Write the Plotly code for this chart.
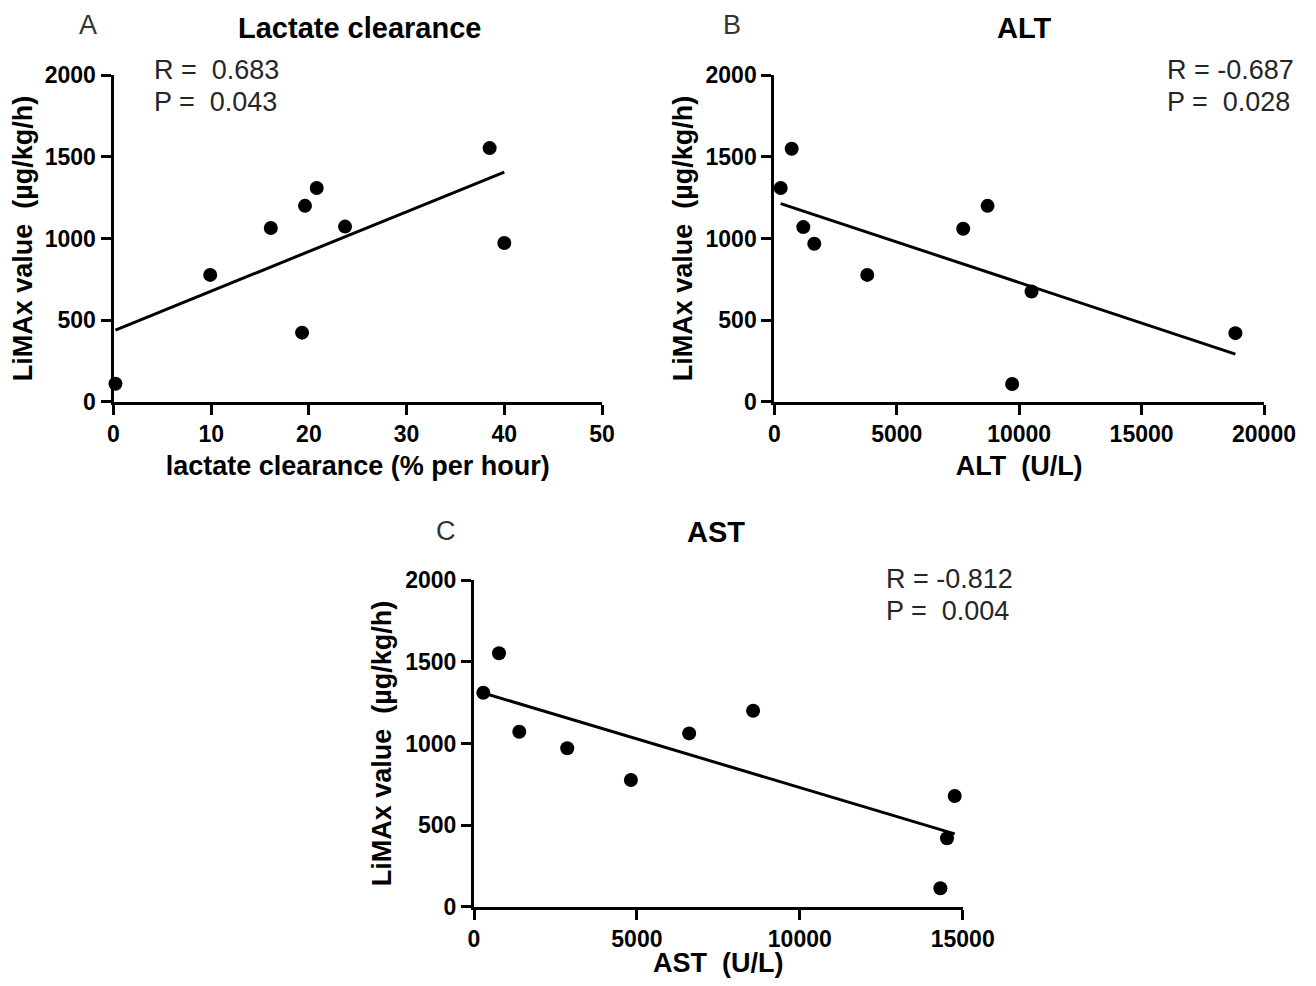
import numpy as np
import plotly.graph_objects as go

# ---------------- data ----------------
lactate_clearance = [0.2, 9.9, 16.1, 19.3, 19.6, 20.8, 23.7, 38.5, 40.0]
limax_lactate = [110, 777, 1064, 423, 1200, 1309, 1073, 1554, 972]

alt_values = [261, 710, 1184, 1633, 3796, 7714, 8710, 10506, 9714, 18832]
limax_alt = [1309, 1550, 1070, 968, 777, 1060, 1200, 675, 108, 420]

ast_values = [285, 767, 1390, 2862, 4816, 6604, 8567, 14755, 14519, 14315]
limax_ast = [1311, 1553, 1072, 971, 776, 1062, 1201, 678, 419, 113]

stats_lactate = ["R =\u00a0 0.683", "P =\u00a0 0.043"]
stats_alt = ["R = -0.687", "P =\u00a0 0.028"]
stats_ast = ["R = -0.812", "P =\u00a0 0.004"]

y_ticks = [0, 500, 1000, 1500, 2000]
x_ticks_lactate = [0, 10, 20, 30, 40, 50]
x_ticks_alt = [0, 5000, 10000, 15000, 20000]
x_ticks_ast = [0, 5000, 10000, 15000]

# page body has an 8px margin; keep the figure inside the 1316x986 window
OFF = 8
W, H = 1316 - 2 * OFF, 986 - 2 * OFF
FONT = "Liberation Sans, Arial, sans-serif"


def px(x):
    return (x - OFF) / W


def py(y):
    return 1 - (y - OFF) / H


def fit_line(x, y):
    slope, intercept = np.polyfit(x, y, 1)
    xs = np.array([min(x), max(x)])
    return xs, slope * xs + intercept


fig = go.Figure()

panels = [
    (lactate_clearance, limax_lactate, "x", "y"),
    (alt_values, limax_alt, "x2", "y2"),
    (ast_values, limax_ast, "x3", "y3"),
]
for xv, yv, xa, ya in panels:
    fx, fy = fit_line(xv, yv)
    fig.add_trace(go.Scatter(x=fx, y=fy, mode="lines", xaxis=xa, yaxis=ya,
                             line=dict(color="black", width=3),
                             showlegend=False, hoverinfo="skip", cliponaxis=False))
    fig.add_trace(go.Scatter(x=xv, y=yv, mode="markers", xaxis=xa, yaxis=ya,
                             marker=dict(color="black", size=14, line=dict(width=0)),
                             showlegend=False, cliponaxis=False))

axis_common = dict(
    showline=True, linecolor="black", linewidth=3,
    ticks="outside", ticklen=10, tickwidth=3, tickcolor="black",
    showgrid=False, zeroline=False, automargin=False,
    tickfont=dict(family=FONT, size=23, color="black", weight="bold"),
)
title_font = dict(family=FONT, size=27, color="black", weight="bold")

dom_x_a = [px(113.5), px(602)]
dom_x_b = [px(774.3), px(1264)]
dom_x_c = [px(474), px(962.7)]
dom_y_ab = [py(401.7), py(75.3)]
dom_y_c = [py(906.7), py(580.3)]

ytitle = "LiMAx value\u00a0 (µg/kg/h)"


def tick_text(vals):
    return [str(v) for v in vals]


fig.update_layout(
    width=W, height=H,
    margin=dict(l=0, r=0, t=0, b=0, autoexpand=False),
    paper_bgcolor="white", plot_bgcolor="white",
    xaxis=dict(axis_common, domain=dom_x_a, anchor="y", range=[0, 50],
               tickvals=x_ticks_lactate, ticktext=tick_text(x_ticks_lactate),
               title=dict(text="lactate clearance (% per hour)", font=title_font, standoff=10)),
    yaxis=dict(axis_common, domain=dom_y_ab, anchor="x", range=[0, 2000],
               tickvals=y_ticks, ticktext=tick_text(y_ticks),
               title=dict(text=ytitle, font=title_font, standoff=6)),
    xaxis2=dict(axis_common, domain=dom_x_b, anchor="y2", range=[0, 20000],
                tickvals=x_ticks_alt, ticktext=tick_text(x_ticks_alt),
                title=dict(text="ALT\u00a0 (U/L)", font=title_font, standoff=10)),
    yaxis2=dict(axis_common, domain=dom_y_ab, anchor="x2", range=[0, 2000],
                tickvals=y_ticks, ticktext=tick_text(y_ticks),
                title=dict(text=ytitle, font=title_font, standoff=6)),
    xaxis3=dict(axis_common, domain=dom_x_c, anchor="y3", range=[0, 15000],
                tickvals=x_ticks_ast, ticktext=tick_text(x_ticks_ast),
                title=dict(text="AST\u00a0 (U/L)", font=title_font, standoff=10)),
    yaxis3=dict(axis_common, domain=dom_y_c, anchor="x3", range=[0, 2000],
                tickvals=y_ticks, ticktext=tick_text(y_ticks),
                title=dict(text=ytitle, font=title_font, standoff=6)),
)

annotations = []
# panel titles
for text, cx, cy in [("Lactate clearance", 359, 28), ("ALT", 1025, 28), ("AST", 716, 532)]:
    annotations.append(dict(text=text, x=px(cx), y=py(cy), xref="paper", yref="paper",
                            xanchor="center", yanchor="middle", showarrow=False, borderpad=0,
                            font=dict(family=FONT, size=29, color="black", weight="bold")))
# panel letters
for text, cx, cy in [("A", 88, 25), ("B", 732, 25), ("C", 446, 531)]:
    annotations.append(dict(text=text, x=px(cx), y=py(cy), xref="paper", yref="paper",
                            xanchor="center", yanchor="middle", showarrow=False, borderpad=0,
                            font=dict(family=FONT, size=27, color="#333333")))
# statistics
for lines, lx, base1, base2 in [(stats_lactate, 152, 79, 112),
                                (stats_alt, 1165, 79, 112),
                                (stats_ast, 884, 588, 620)]:
    for line, base in zip(lines, [base1, base2]):
        annotations.append(dict(text=line, x=px(lx), y=py(base - 9.5), xref="paper", yref="paper",
                                xanchor="left", yanchor="middle", showarrow=False,
                                font=dict(family=FONT, size=27, color="#262626")))
fig.update_layout(annotations=annotations)

fig.write_html("out.html")
